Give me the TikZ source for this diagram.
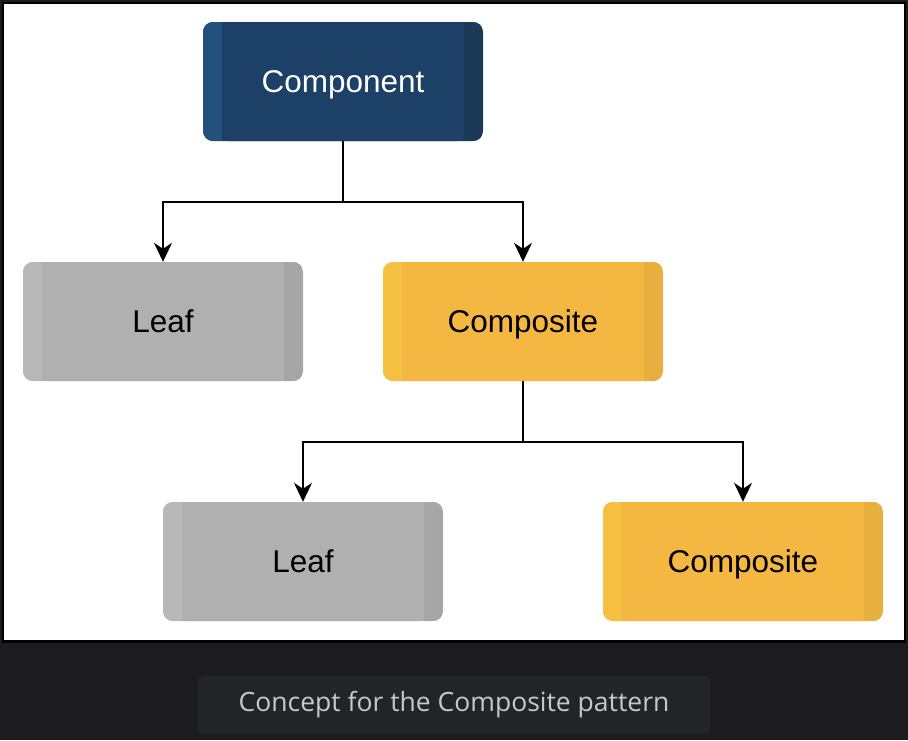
\documentclass[tikz,border=0pt]{standalone}
\usepackage{fontspec}
\setmainfont{Liberation Sans}
\newfontfamily\captionfont{Open Sans}
\usetikzlibrary{positioning, arrows.meta, calc}

\definecolor{compLeft}{HTML}{24507C}
\definecolor{compMid}{HTML}{1D4166}
\definecolor{compRight}{HTML}{1C3A58}
\definecolor{leafLeft}{HTML}{B8B8B8}
\definecolor{leafMid}{HTML}{B0B0B0}
\definecolor{leafRight}{HTML}{A6A6A6}
\definecolor{compoLeft}{HTML}{F5C042}
\definecolor{compoMid}{HTML}{F4B741}
\definecolor{compoRight}{HTML}{E6AF3E}
\definecolor{bandBg}{HTML}{1C1C1E}
\definecolor{captionBg}{HTML}{232428}
\definecolor{captionText}{HTML}{C8C8C8}

\begin{document}
\begin{tikzpicture}[
    x=1pt, y=-1pt,
    stripbox/.style n args={3}{rectangle, rounded corners=10pt, fill=#2,
        minimum width=280pt, minimum height=119pt, inner sep=0pt,
        font=\fontsize{31.5}{36}\selectfont, text height=22pt, text depth=0pt,
        path picture={
            \fill[#1, sharp corners] (path picture bounding box.south west)
                rectangle ([xshift=19pt]path picture bounding box.north west);
            \fill[#3, sharp corners] ([xshift=-19pt]path picture bounding box.south east)
                rectangle (path picture bounding box.north east);
            \fill[#2, rounded corners=6pt] ([xshift=19pt]path picture bounding box.south west)
                rectangle ([xshift=-19pt]path picture bounding box.north east);
        }},
    link/.style={-{Stealth[length=19pt, width=18pt, inset=6pt]}, line width=2pt, black},
    caption/.style={font=\captionfont\fontsize{26.5}{30}\selectfont, text=captionText}
]

% Background and frame
\fill[bandBg] (0,0) rectangle (908,740);
\draw[fill=white, line width=2.6pt] (3,3) rectangle (905,641.5);

% === Hierarchy ===
\node[stripbox={compLeft}{compMid}{compRight}, text=white] (component) at (343,81.5) {Component};
\node[stripbox={leafLeft}{leafMid}{leafRight}] (leafA) at (163,321.5) {Leaf};
\node[stripbox={compoLeft}{compoMid}{compoRight}] (compositeA) at (523,321.5) {Composite};
\node[stripbox={leafLeft}{leafMid}{leafRight}] (leafB) at (303,561.5) {Leaf};
\node[stripbox={compoLeft}{compoMid}{compoRight}] (compositeB) at (743,561.5) {Composite};

% Connectors
\draw[link] (component.south) -- ++(0,61) -| (leafA.north);
\draw[link] (component.south) -- ++(0,61) -| (compositeA.north);
\draw[link] (compositeA.south) -- ++(0,61) -| (leafB.north);
\draw[link] (compositeA.south) -- ++(0,61) -| (compositeB.north);

% === Caption ===
\node[fill=captionBg, rounded corners=6pt, minimum width=512pt, minimum height=58pt,
    caption] (conceptcaption) at (454,705) {Concept for the Composite pattern};

\end{tikzpicture}
\end{document}
